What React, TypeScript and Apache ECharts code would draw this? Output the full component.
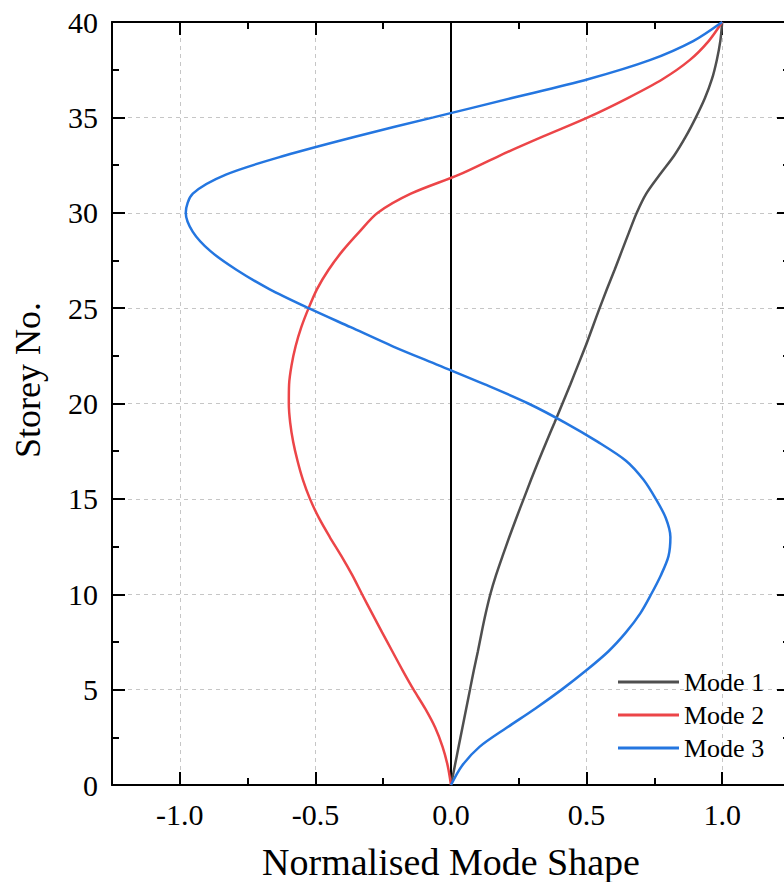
import React, { useEffect, useRef } from "react";
import * as echarts from "echarts";

// Storey levels (vertical axis) and the normalised modal displacement at each level
const storeys = [
  0, 1, 2, 3, 4, 5, 6, 7, 8, 9, 10, 11, 12, 13, 14, 15, 16, 17, 18, 19, 20,
  21, 22, 23, 24, 25, 26, 27, 28, 29, 30, 31, 32, 33, 34, 35, 36, 37, 38, 39, 40,
];

const mode1 = [
  0, 0.014, 0.028, 0.042, 0.056, 0.07, 0.084, 0.099, 0.113, 0.128, 0.145,
  0.166, 0.19, 0.215, 0.241, 0.268, 0.295, 0.323, 0.352, 0.382, 0.411,
  0.44, 0.468, 0.496, 0.522, 0.548, 0.575, 0.603, 0.63, 0.657, 0.685,
  0.72, 0.77, 0.823, 0.866, 0.903, 0.936, 0.962, 0.98, 0.993, 1.0,
];

const mode2 = [
  0, -0.012, -0.031, -0.058, -0.095, -0.138, -0.178, -0.216, -0.254, -0.291, -0.328,
  -0.364, -0.404, -0.447, -0.487, -0.52, -0.546, -0.566, -0.582, -0.593, -0.598,
  -0.597, -0.588, -0.573, -0.552, -0.525, -0.494, -0.452, -0.4, -0.338, -0.27,
  -0.148, 0.03, 0.18, 0.34, 0.505, 0.65, 0.78, 0.88, 0.95, 1.0,
];

const mode3 = [
  0, 0.04, 0.105, 0.205, 0.31, 0.408, 0.498, 0.58, 0.645, 0.698, 0.738,
  0.774, 0.802, 0.809, 0.792, 0.755, 0.71, 0.645, 0.54, 0.42, 0.285,
  0.125, -0.045, -0.215, -0.37, -0.525, -0.67, -0.79, -0.888, -0.952, -0.978,
  -0.952, -0.83, -0.612, -0.35, -0.065, 0.221, 0.505, 0.733, 0.893, 1.0,
];

const seriesNames = ["Mode 1", "Mode 2", "Mode 3"];
const seriesColors = ["#4f4f4f", "#ec4548", "#2476e0"];

const xMajorTicks = [-1, -0.5, 0, 0.5, 1];
const xMinorTicks = [-0.75, -0.25, 0.25, 0.75];

const xTitle = "Normalised Mode Shape";
const yTitle = "Storey No.";

const FONT = '"Liberation Serif", "Times New Roman", Times, serif';

export default function App() {
  const ref = useRef<HTMLDivElement>(null);

  useEffect(() => {
    if (!ref.current) return;
    const chart = echarts.init(ref.current, undefined, { renderer: "svg" });

    const black = { color: "#000", width: 2 };
    const gridDash = { type: [4, 4] as number[], color: "#c6c6c6", width: 1 };

    const xBase = {
      type: "value" as const,
      min: -1.25,
      max: 1.25,
      interval: 0.25,
    };

    const modes = [mode1, mode2, mode3];

    const option = {
      animation: false,
      backgroundColor: "#fff",
      grid: {
        left: 112,
        top: 22,
        width: 678,
        height: 763,
        containLabel: false,
        outerBoundsMode: "none",
      },
      legend: {
        orient: "vertical",
        left: 618,
        top: 669,
        padding: 0,
        icon: "rect",
        itemWidth: 61,
        itemHeight: 3,
        itemGap: 7,
        data: seriesNames,
        textStyle: {
          fontFamily: FONT,
          fontSize: 26,
          lineHeight: 26,
          color: "#000",
        },
      },
      xAxis: [
        {
          ...xBase,
          position: "bottom",
          axisLine: { show: true, onZero: false, lineStyle: black },
          axisTick: {
            show: true,
            inside: true,
            length: 13,
            customValues: xMajorTicks,
            lineStyle: black,
          },
          axisLabel: {
            customValues: xMajorTicks,
            formatter: (v: number) => v.toFixed(1),
            fontFamily: FONT,
            fontSize: 30,
            color: "#000",
            margin: 14,
          },
          splitLine: { show: true, lineStyle: gridDash },
          name: xTitle,
          nameLocation: "middle",
          nameGap: 58,
          nameTextStyle: { fontFamily: FONT, fontSize: 38, color: "#000" },
        },
        {
          ...xBase,
          position: "bottom",
          axisLine: { show: false, onZero: false },
          axisTick: {
            show: true,
            inside: true,
            length: 7,
            customValues: xMinorTicks,
            lineStyle: black,
          },
          axisLabel: { show: false },
          splitLine: { show: false },
        },
        {
          ...xBase,
          position: "top",
          axisLine: { show: true, onZero: false, lineStyle: black },
          axisTick: {
            show: true,
            inside: true,
            length: 13,
            customValues: xMajorTicks,
            lineStyle: black,
          },
          axisLabel: { show: false },
          splitLine: { show: false },
        },
        {
          ...xBase,
          position: "top",
          axisLine: { show: false, onZero: false },
          axisTick: {
            show: true,
            inside: true,
            length: 7,
            customValues: xMinorTicks,
            lineStyle: black,
          },
          axisLabel: { show: false },
          splitLine: { show: false },
        },
      ],
      yAxis: [
        {
          type: "value",
          position: "left",
          min: 0,
          max: 40,
          interval: 5,
          axisLine: { show: true, onZero: false, lineStyle: black },
          axisTick: { show: true, inside: true, length: 13, lineStyle: black },
          minorTick: {
            show: true,
            splitNumber: 2,
            length: 7,
            lineStyle: black,
          },
          axisLabel: {
            fontFamily: FONT,
            fontSize: 30,
            color: "#000",
            margin: 14,
          },
          splitLine: { show: true, lineStyle: gridDash },
          minorSplitLine: { show: false },
        },
        {
          type: "value",
          position: "right",
          min: 0,
          max: 40,
          interval: 5,
          axisLine: { show: true, onZero: false, lineStyle: black },
          axisTick: { show: true, inside: true, length: 13, lineStyle: black },
          minorTick: {
            show: true,
            splitNumber: 2,
            length: 7,
            lineStyle: black,
          },
          axisLabel: { show: false },
          splitLine: { show: false },
          minorSplitLine: { show: false },
        },
      ],
      graphic: [
        {
          type: "text",
          x: 28,
          y: 380,
          rotation: Math.PI / 2,
          style: {
            text: yTitle,
            fontFamily: FONT,
            fontSize: 36,
            fill: "#000",
            align: "center",
            verticalAlign: "middle",
          },
        },
      ],
      series: modes.map((m, i) => ({
        name: seriesNames[i],
        type: "line",
        xAxisIndex: 0,
        yAxisIndex: 0,
        data: storeys.map((s, k) => [m[k], s]),
        showSymbol: false,
        symbol: "none",
        smooth: 0.3,
        color: seriesColors[i],
        lineStyle: { color: seriesColors[i], width: 2.5 },
        z: 3,
        ...(i === 0
          ? {
              markLine: {
                silent: true,
                symbol: ["none", "none"],
                label: { show: false },
                lineStyle: { color: "#000", width: 2, type: "solid" },
                data: [{ xAxis: 0 }],
                z: 2,
              },
            }
          : {}),
      })),
    };

    chart.setOption(option as any);
    return () => chart.dispose();
  }, []);

  return (
    <div
      ref={ref}
      style={{ position: "absolute", left: 0, top: 0, width: 784, height: 882 }}
    />
  );
}
